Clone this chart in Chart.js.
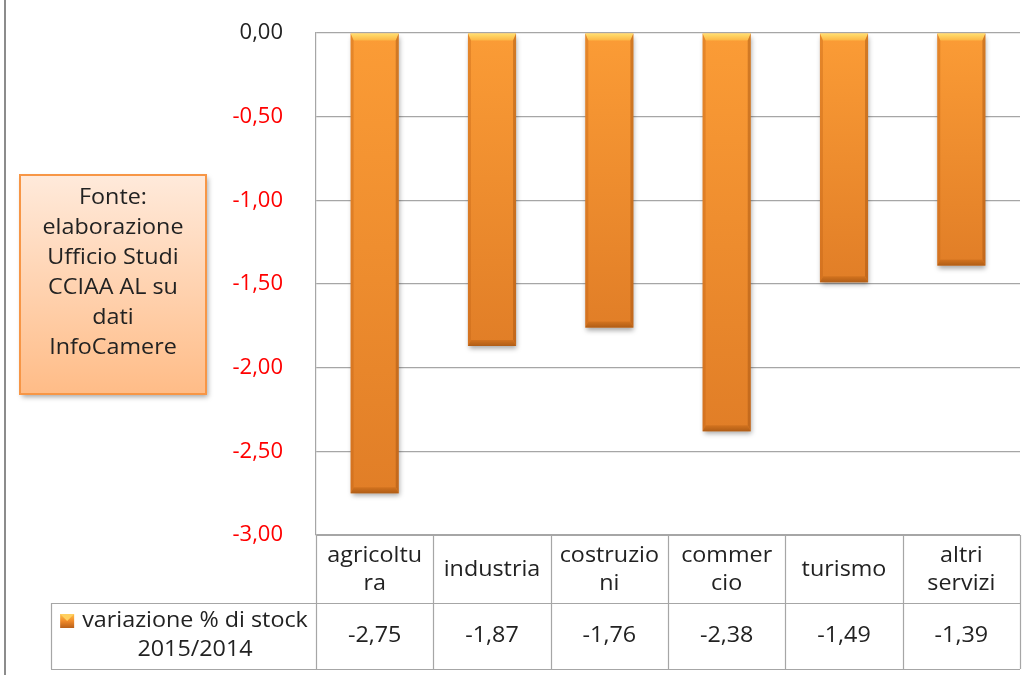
<!DOCTYPE html>
<html>
<head>
<meta charset="utf-8">
<script src="https://cdn.jsdelivr.net/npm/chart.js@4"></script>
<style>
  html,body{margin:0;padding:0;background:#fff;}
  #wrap{position:relative;width:1033px;height:675px;}
  canvas{display:block;}
</style>
</head>
<body>
<div id="wrap"><canvas id="c" width="1033" height="675"></canvas></div>
<script>
const categories = [["agricoltu","ra"],["industria"],["costruzio","ni"],["commer","cio"],["turismo"],["altri","servizi"]];
const values = [-2.75, -1.87, -1.76, -2.38, -1.49, -1.39];
const seriesName = ["variazione % di stock", "2015/2014"];
const sourceLines = ["Fonte:", "elaborazione", "Ufficio Studi", "CCIAA AL su", "dati", "InfoCamere"];
const yMin = -3, yMax = 0, yStep = 0.5;

const FONT = "'Open Sans', 'DejaVu Sans', sans-serif";
const FS = 22;
const SX = 1.06;
const fmt = v => v.toFixed(2).replace('.', ',');

function barFill(context) {
  const chart = context.chart;
  const ys = chart.scales && chart.scales.y;
  if (!ys || context.dataIndex === undefined) return '#F39530';
  const top = ys.getPixelForValue(0);
  const bot = ys.getPixelForValue(values[context.dataIndex]);
  if (!isFinite(top) || !isFinite(bot)) return '#F39530';
  const g = chart.ctx.createLinearGradient(0, top, 0, bot);
  g.addColorStop(0, '#FB9C36');
  g.addColorStop(1, '#E17E27');
  return g;
}

function txt(ctx, t, x, y) {
  ctx.save();
  ctx.translate(x, y);
  ctx.scale(SX, 1);
  ctx.fillText(t, 0, 0);
  ctx.restore();
}

const bevelPlugin = {
  id: 'bevel',
  beforeDatasetDraw(chart) {
    const ctx = chart.ctx;
    ctx.save();
    ctx.shadowColor = 'rgba(0,0,0,0.35)';
    ctx.shadowBlur = 5;
    ctx.shadowOffsetX = 1;
    ctx.shadowOffsetY = 3;
  },
  afterDatasetDraw(chart) {
    const ctx = chart.ctx;
    ctx.restore();
    const meta = chart.getDatasetMeta(0);
    meta.data.forEach(el => {
      const p = el.getProps(['x', 'y', 'base', 'width'], true);
      const L = p.x - p.width / 2, R = p.x + p.width / 2;
      const T = Math.min(p.y, p.base), B = Math.max(p.y, p.base);
      const bt = 7, bs = 3, bb = 6;
      ctx.save();
      let g = ctx.createLinearGradient(0, T, 0, T + bt);
      g.addColorStop(0, '#FFE070');
      g.addColorStop(1, '#FDB444');
      ctx.fillStyle = g;
      ctx.beginPath();
      ctx.moveTo(L, T); ctx.lineTo(R, T); ctx.lineTo(R - bs, T + bt); ctx.lineTo(L + bs, T + bt); ctx.closePath();
      ctx.fill();
      ctx.fillStyle = 'rgba(190,95,20,0.35)';
      ctx.beginPath();
      ctx.moveTo(L, T); ctx.lineTo(L + bs, T + bt); ctx.lineTo(L + bs, B - bb); ctx.lineTo(L, B); ctx.closePath();
      ctx.fill();
      ctx.fillStyle = 'rgba(160,80,15,0.45)';
      ctx.beginPath();
      ctx.moveTo(R, T); ctx.lineTo(R - bs, T + bt); ctx.lineTo(R - bs, B - bb); ctx.lineTo(R, B); ctx.closePath();
      ctx.fill();
      g = ctx.createLinearGradient(0, B - bb, 0, B);
      g.addColorStop(0, '#D3731F');
      g.addColorStop(1, '#B05D16');
      ctx.fillStyle = g;
      ctx.beginPath();
      ctx.moveTo(L, B); ctx.lineTo(R, B); ctx.lineTo(R - bs, B - bb); ctx.lineTo(L + bs, B - bb); ctx.closePath();
      ctx.fill();
      ctx.restore();
    });
  }
};

const tablePlugin = {
  id: 'dataTable',
  afterDraw(chart) {
    const ctx = chart.ctx;
    const xs = chart.scales.x;
    const area = chart.chartArea;
    const n = categories.length;
    const colW = (area.right - area.left) / n;
    const rowTop = area.bottom, rowMid = area.bottom + 68, rowBot = area.bottom + 134;
    const legL = 51;
    ctx.save();
    ctx.strokeStyle = '#8C8C8C';
    ctx.lineWidth = 2;
    ctx.beginPath(); ctx.moveTo(5, 0); ctx.lineTo(5, 675); ctx.stroke();

    ctx.strokeStyle = '#A6A6A6';
    ctx.lineWidth = 1.2;
    ctx.beginPath();
    ctx.moveTo(area.left, rowTop + 0.5); ctx.lineTo(area.right, rowTop + 0.5);
    ctx.moveTo(legL, rowMid + 0.5); ctx.lineTo(area.right, rowMid + 0.5);
    ctx.moveTo(legL, rowBot + 0.5); ctx.lineTo(area.right, rowBot + 0.5);
    for (let i = 0; i <= n; i++) {
      const x = Math.round(area.left + i * colW) + 0.5;
      ctx.moveTo(x, rowTop); ctx.lineTo(x, rowBot);
    }
    ctx.moveTo(legL + 0.5, rowMid); ctx.lineTo(legL + 0.5, rowBot);
    ctx.stroke();

    ctx.fillStyle = '#222222';
    ctx.font = FS + 'px ' + FONT;
    ctx.textAlign = 'center';
    ctx.textBaseline = 'middle';
    const lh = 28;
    categories.forEach((lines, i) => {
      const cx = xs.getPixelForValue(i);
      const cy = (rowTop + rowMid) / 2 + 1;
      lines.forEach((t, k) => {
        txt(ctx, t, cx, cy + (k - (lines.length - 1) / 2) * lh);
      });
      txt(ctx, fmt(values[i]), cx, (rowMid + rowBot) / 2);
    });

    const tcx = 195;
    txt(ctx, seriesName[0], tcx, rowMid + 18);
    txt(ctx, seriesName[1], tcx, rowMid + 47);
    const w0 = ctx.measureText(seriesName[0]).width * SX;
    const sx = tcx - w0 / 2 - 22, sy = rowMid + 11;
    let g = ctx.createLinearGradient(0, sy, 0, sy + 14);
    g.addColorStop(0, '#FFC24A');
    g.addColorStop(0.5, '#F08A2A');
    g.addColorStop(1, '#B9601A');
    ctx.fillStyle = g;
    ctx.fillRect(sx, sy, 14, 14);
    ctx.fillStyle = '#FFD060';
    ctx.beginPath(); ctx.moveTo(sx, sy); ctx.lineTo(sx + 14, sy); ctx.lineTo(sx + 7, sy + 7); ctx.closePath(); ctx.fill();

    const bx = 20, by = 175, bw = 186, bh = 219;
    ctx.save();
    ctx.shadowColor = 'rgba(0,0,0,0.35)';
    ctx.shadowBlur = 5;
    ctx.shadowOffsetX = 2;
    ctx.shadowOffsetY = 3;
    g = ctx.createLinearGradient(0, by, 0, by + bh);
    g.addColorStop(0, '#FFEADB');
    g.addColorStop(1, '#FFBC87');
    ctx.fillStyle = g;
    ctx.fillRect(bx, by, bw, bh);
    ctx.restore();
    ctx.strokeStyle = '#F79646';
    ctx.lineWidth = 2;
    ctx.strokeRect(bx, by, bw, bh);
    ctx.fillStyle = '#222222';
    sourceLines.forEach((t, k) => {
      txt(ctx, t, 113, 198 + k * 30);
    });
    ctx.restore();
  }
};

new Chart(document.getElementById('c'), {
  type: 'bar',
  data: {
    labels: categories,
    datasets: [{
      label: seriesName.join(' '),
      data: values,
      backgroundColor: barFill,
      borderWidth: 0,
      barPercentage: 0.41,
      categoryPercentage: 1.0
    }]
  },
  options: {
    responsive: false,
    animation: false,
    devicePixelRatio: 1,
    layout: { padding: { left: 0, top: 33, right: 13, bottom: 140 } },
    plugins: { legend: { display: false }, tooltip: { enabled: false }, title: { display: false } },
    scales: {
      x: { display: false, grid: { display: false } },
      y: {
        min: yMin, max: yMax,
        afterFit(scale) { scale.width = 316; scale.paddingTop = 0; scale.paddingBottom = 0; },
        border: { display: true, color: '#A6A6A6', width: 1.2 },
        grid: { color: '#A6A6A6', lineWidth: 1.2, drawTicks: false },
        ticks: {
          stepSize: yStep,
          padding: 33,
          font: { family: FONT, size: FS },
          color: c => (c.tick && c.tick.value === 0) ? '#222222' : '#FF0000',
          callback: v => fmt(v)
        }
      }
    }
  },
  plugins: [bevelPlugin, tablePlugin]
});
</script>
</body>
</html>
